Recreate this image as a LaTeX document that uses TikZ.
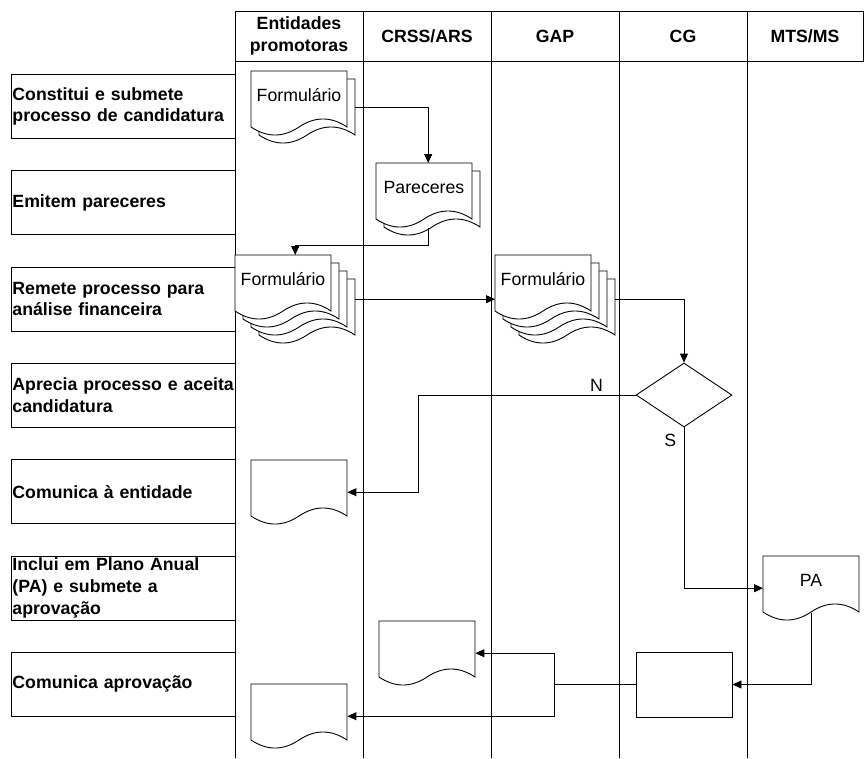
\documentclass[tikz,border=0pt]{standalone}
\usepackage{fontspec}
\setmainfont{Liberation Sans}
\usetikzlibrary{arrows.meta,shapes.geometric}

\tikzset{
  lane/.style={line width=0.9pt},
  task/.style={draw, line width=0.9pt, anchor=north west, minimum height=64pt,
    text width=222pt, inner xsep=1pt, inner ysep=0pt, align=left,
    font=\fontsize{17.7}{21.7}\selectfont\bfseries},
  head/.style={align=center, font=\fontsize{17.7}{21.7}\selectfont\bfseries},
  doctext/.style={font=\fontsize{17.7}{21.7}\selectfont},
  sheet/.style={draw, fill=white, line width=0.9pt},
  flow/.style={line width=0.9pt, -{Triangle[length=9pt,width=8pt]}},
  pics/doc/.style n args={2}{code={
    \foreach \k in {#2,...,0}{
      \draw [sheet, shift={(8*\k,8*\k)}]
        (0,0) -- (96,0) -- (96,56)
        .. controls (80,45.3) and (64,45.3) .. (48,56)
        .. controls (32,66.7) and (16,66.7) .. (0,56)
        -- cycle
      ;
    }
    \node (-doc) [anchor=north west, inner sep=0pt,
      minimum width={(96+8*#2)*1pt}, minimum height={(64+8*#2)*1pt}] at (0,0) {};
    \node (-txt) [doctext] at (48,24) {#1};
    \coordinate (-bot) at (48+4*#2,57+8*#2);
  }},
}

\begin{document}
\begin{tikzpicture}[x=1pt,y=-1pt]
  \useasboundingbox (0,0) rectangle (864,758);
  % swimlanes
  \draw [lane] (235,11) rectangle (863,61);
  \foreach \x in {235,363,491,619,747}{
    \draw [lane] (\x,11) -- (\x,758);
  }
  \node (h1) [head] at (299,36) {Entidades\\promotoras};
  \node (h2) [head] at (427,36) {CRSS/ARS};
  \node (h3) [head] at (555,36) {GAP};
  \node (h4) [head] at (683,36) {CG};
  \node (h5) [head] at (805,36) {MTS/MS};
  % tasks
  \node (t1) [task] at (11,74) {Constitui e submete\\processo de candidatura};
  \node (t2) [task] at (11,170.3) {Emitem pareceres};
  \node (t3) [task] at (11,266.6) {Remete processo para\\análise financeira};
  \node (t4) [task] at (11,362.9) {Aprecia processo e aceita\\candidatura};
  \node (t5) [task] at (11,459.2) {Comunica à entidade};
  \node (t6) [task] at (11,555.5) {Inclui em Plano Anual\\(PA) e submete a\\aprovação};
  \node (t7) [task] at (11,651.8) {Comunica aprovação};
  % documents
  \pic (form1) at (251,71) {doc={Formulário}{1}};
  \pic (par) at (376,163) {doc={Pareceres}{1}};
  \pic (form3) at (235,255) {doc={Formulário}{3}};
  \pic (gap) at (495,255) {doc={Formulário}{3}};
  \pic (ent5) at (251,460) {doc={}{0}};
  \pic (pa) at (763,556) {doc={PA}{0}};
  \pic (crss7) at (379,621) {doc={}{0}};
  \pic (ent7) at (251,684) {doc={}{0}};
  \node (dec) [diamond, draw, line width=0.9pt, inner sep=0pt,
    minimum width=96pt, minimum height=64pt] at (684,395) {};
  \node (cg) [draw, line width=0.9pt, minimum width=96pt,
    minimum height=65pt] at (684,684.5) {};
  % flows
  \draw [flow] (form1-doc.east) -| (par-doc.north);
  \draw [flow]
    (par-bot)
    -- ++(0,17)
    -| (form3-doc.north)
  ;
  \draw [flow] (form3-doc.east) -- (gap-doc.west);
  \draw [flow] (gap-doc.east) -| (dec.north);
  \draw [flow]
    (dec.west)
    -- node [doctext, above, pos=0.18] (n) {N} ++(-217,0)
    |- (ent5-doc.east)
  ;
  \draw [flow]
    (dec.south)
    |- node [doctext, left=4pt, pos=0.04] (s) {S} (pa-doc.west)
  ;
  \draw [flow] (pa-bot) |- (cg.east);
  \draw [lane] (cg.west) -- ++(-81,0) coordinate (fork);
  \draw [flow] (fork) |- (crss7-doc.east);
  \draw [flow] (fork) |- (ent7-doc.east);
\end{tikzpicture}
\end{document}
